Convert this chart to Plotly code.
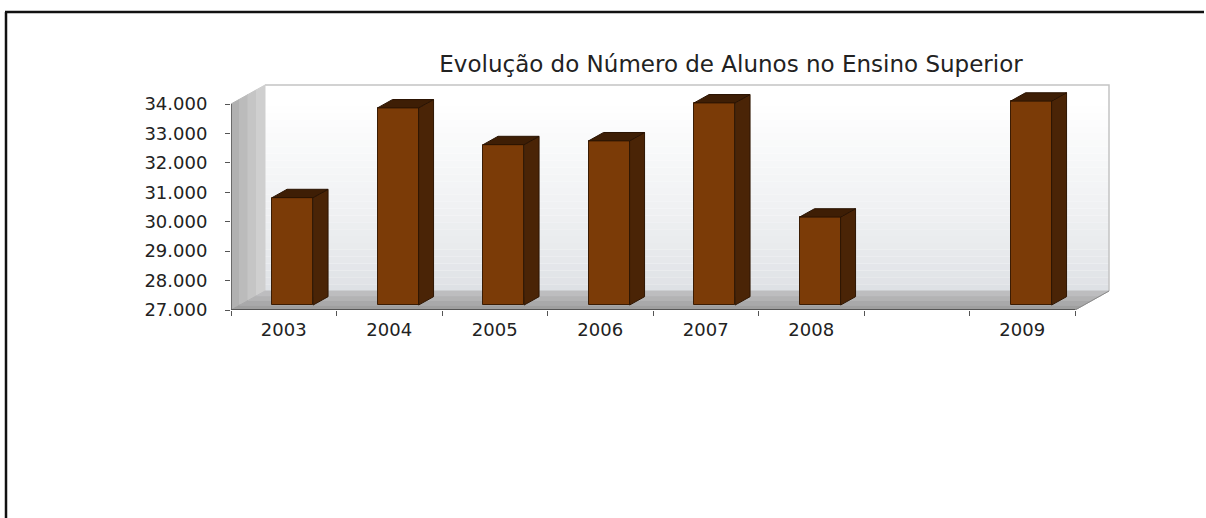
import plotly.graph_objects as go

# ---------------- data ----------------
slot_labels = ["2003", "2004", "2005", "2006", "2007", "2008", "", "2009"]
students = [30650, 33700, 32450, 32580, 33870, 29990, None, 33930]
y_tick_vals = [27000, 28000, 29000, 30000, 31000, 32000, 33000, 34000]
y_tick_text = ["27.000", "28.000", "29.000", "30.000", "31.000", "32.000", "33.000", "34.000"]
title_text = "Evolução do Número de Alunos no Ensino Superior"

# ---------------- geometry (pixels -> data units) ----------------
W, H = 1206, 518
PL, PR, PT, PB = 231, 1115, 84, 310          # plot-area box in pixels
AX_TOP_PX = 104                               # pixel of top tick on the front axis
Y0, Y1 = y_tick_vals[0], y_tick_vals[-1]
k = (PB - AX_TOP_PX) / (Y1 - Y0)              # px per y unit
CAT_PX = (1075 - PL) / len(slot_labels)       # px per category
X0 = -0.5
XN = len(slot_labels) - 0.5
x_max = X0 + (PR - PL) / CAT_PX
y_max = Y0 + (PB - PT) / k

DX = 34 / CAT_PX     # depth vector (data units)
DY = 19 / k
F1, F2 = 0.26, 0.70  # front/back depth fraction of the bars
HW = 20.5 / CAT_PX   # half width of bar

def px_x(p):  # pixel -> paper
    return (p - PL) / (PR - PL)

def px_y(p):
    return (PB - p) / (PB - PT)

def hexmix(c1, c2, t):
    a = [int(c1[i:i + 2], 16) for i in (1, 3, 5)]
    b = [int(c2[i:i + 2], 16) for i in (1, 3, 5)]
    return "#%02x%02x%02x" % tuple(round(a[j] + (b[j] - a[j]) * t) for j in range(3))

shapes = []

# back wall (vertical gradient via bands)
nb = 30
for i in range(nb):
    ya = Y0 + DY + (Y1 - Y0) * i / nb
    yb = Y0 + DY + (Y1 - Y0) * (i + 1) / nb
    t = ((i + 0.5) / nb)
    col = hexmix("#dcdfe3", "#ffffff", min(1, t ** 0.7 * 1.05))
    shapes.append(dict(type="rect", xref="x", yref="y", x0=X0 + DX, x1=XN + DX, y0=ya, y1=yb,
                       fillcolor=col, line=dict(width=0), layer="below"))
# back wall outline (top, right)
shapes.append(dict(type="path", xref="x", yref="y",
                   path=f"M {X0+DX},{Y1+DY} L {XN+DX},{Y1+DY} L {XN+DX},{Y0+DY}",
                   line=dict(color="#c4c4c4", width=1.5), layer="below"))

# left wall (horizontal gradient strips)
ns = 4
for i in range(ns):
    fa, fb = i / ns, (i + 1) / ns
    col = hexmix("#acacac", "#d4d4d4", (i + 0.5) / ns)
    path = (f"M {X0+fa*DX},{Y0+fa*DY} L {X0+fb*DX},{Y0+fb*DY} "
            f"L {X0+fb*DX},{Y1+fb*DY} L {X0+fa*DX},{Y1+fa*DY} Z")
    shapes.append(dict(type="path", xref="x", yref="y", path=path,
                       fillcolor=col, line=dict(color=col, width=1), layer="below"))

# floor
nf = 4
for i in range(nf):
    fa, fb = i / nf, (i + 1) / nf
    col = hexmix("#9a9a9a", "#c2c2c4", (i + 0.5) / nf)
    path = (f"M {X0+fa*DX},{Y0+fa*DY} L {XN+fa*DX},{Y0+fa*DY} "
            f"L {XN+fb*DX},{Y0+fb*DY} L {X0+fb*DX},{Y0+fb*DY} Z")
    shapes.append(dict(type="path", xref="x", yref="y", path=path,
                       fillcolor=col, line=dict(color=col, width=1), layer="below"))

# front axis lines
shapes.append(dict(type="line", xref="x", yref="y", x0=X0, x1=X0, y0=Y0, y1=Y1,
                   line=dict(color="#555555", width=1.5), layer="above"))
shapes.append(dict(type="line", xref="x", yref="y", x0=X0, x1=XN, y0=Y0, y1=Y0,
                   line=dict(color="#555555", width=2), layer="above"))
shapes.append(dict(type="line", xref="x", yref="y", x0=XN, x1=XN + DX, y0=Y0, y1=Y0 + DY,
                   line=dict(color="#8a8a8a", width=1), layer="above"))

# outer frame (left + top border only)
shapes.append(dict(type="line", xref="paper", yref="paper",
                   x0=px_x(6), x1=px_x(6), y0=px_y(12), y1=px_y(518),
                   line=dict(color="#111111", width=2.5)))
shapes.append(dict(type="line", xref="paper", yref="paper",
                   x0=px_x(5), x1=px_x(1204), y0=px_y(12), y1=px_y(12),
                   line=dict(color="#111111", width=2.5)))

fig = go.Figure()

# ---------------- bars (front faces) ----------------
xs, hs, vals = [], [], []
for i, v in enumerate(students):
    if v is None:
        continue
    xs.append(i + F1 * DX)
    hs.append(v - Y0)
    vals.append(v)
fig.add_trace(go.Bar(x=xs, y=hs, base=Y0 + F1 * DY, width=2 * HW,
                     marker=dict(color="#7b3b07", line=dict(color="#3b1c03", width=1)),
                     customdata=vals, hovertemplate="%{customdata:,}<extra></extra>",
                     showlegend=False))

# side and top faces, computed from the values
for i, v in enumerate(students):
    if v is None:
        continue
    xl, xr = i - HW, i + HW
    side_x = [xr + F1 * DX, xr + F2 * DX, xr + F2 * DX, xr + F1 * DX, xr + F1 * DX]
    side_y = [Y0 + F1 * DY, Y0 + F2 * DY, v + F2 * DY, v + F1 * DY, Y0 + F1 * DY]
    fig.add_trace(go.Scatter(x=side_x, y=side_y, fill="toself", mode="lines",
                             fillcolor="#4a2406", line=dict(color="#2e1603", width=1),
                             hoverinfo="skip", showlegend=False))
    top_x = [xl + F1 * DX, xr + F1 * DX, xr + F2 * DX, xl + F2 * DX, xl + F1 * DX]
    top_y = [v + F1 * DY, v + F1 * DY, v + F2 * DY, v + F2 * DY, v + F1 * DY]
    fig.add_trace(go.Scatter(x=top_x, y=top_y, fill="toself", mode="lines",
                             fillcolor="#3e1e05", line=dict(color="#2a1302", width=1),
                             hoverinfo="skip", showlegend=False))

tick_pos = [i for i, lab in enumerate(slot_labels) if lab]
tick_lab = [lab for lab in slot_labels if lab]

fig.update_layout(
    width=W, height=H,
    margin=dict(l=PL, r=W - PR, t=PT, b=H - PB, pad=0),
    paper_bgcolor="white", plot_bgcolor="rgba(0,0,0,0)",
    bargap=0,
    shapes=shapes,
    font=dict(family="DejaVu Sans", size=18, color="#222222"),
    title=dict(text=title_text, x=731 / W, xanchor="center", xref="container",
               y=1 - 64 / H, yanchor="middle", yref="container",
               font=dict(family="DejaVu Sans", size=23, color="#222222")),
    xaxis=dict(range=[X0, x_max], showgrid=False, zeroline=False, showline=False,
               tickmode="array", tickvals=tick_pos, ticktext=tick_lab, ticks="",
               ticklabelstandoff=7,
               minor=dict(tickmode="array", tickvals=[X0 + j for j in range(len(slot_labels) + 1)],
                          ticks="outside", ticklen=5, tickcolor="#555555", showgrid=False)),
    yaxis=dict(range=[Y0, y_max], showgrid=False, zeroline=False, showline=False,
               tickmode="array", tickvals=y_tick_vals, ticktext=y_tick_text,
               ticks="outside", ticklen=5, tickcolor="#555555", ticklabelstandoff=14),
    showlegend=False,
)

fig.write_html("out.html")
